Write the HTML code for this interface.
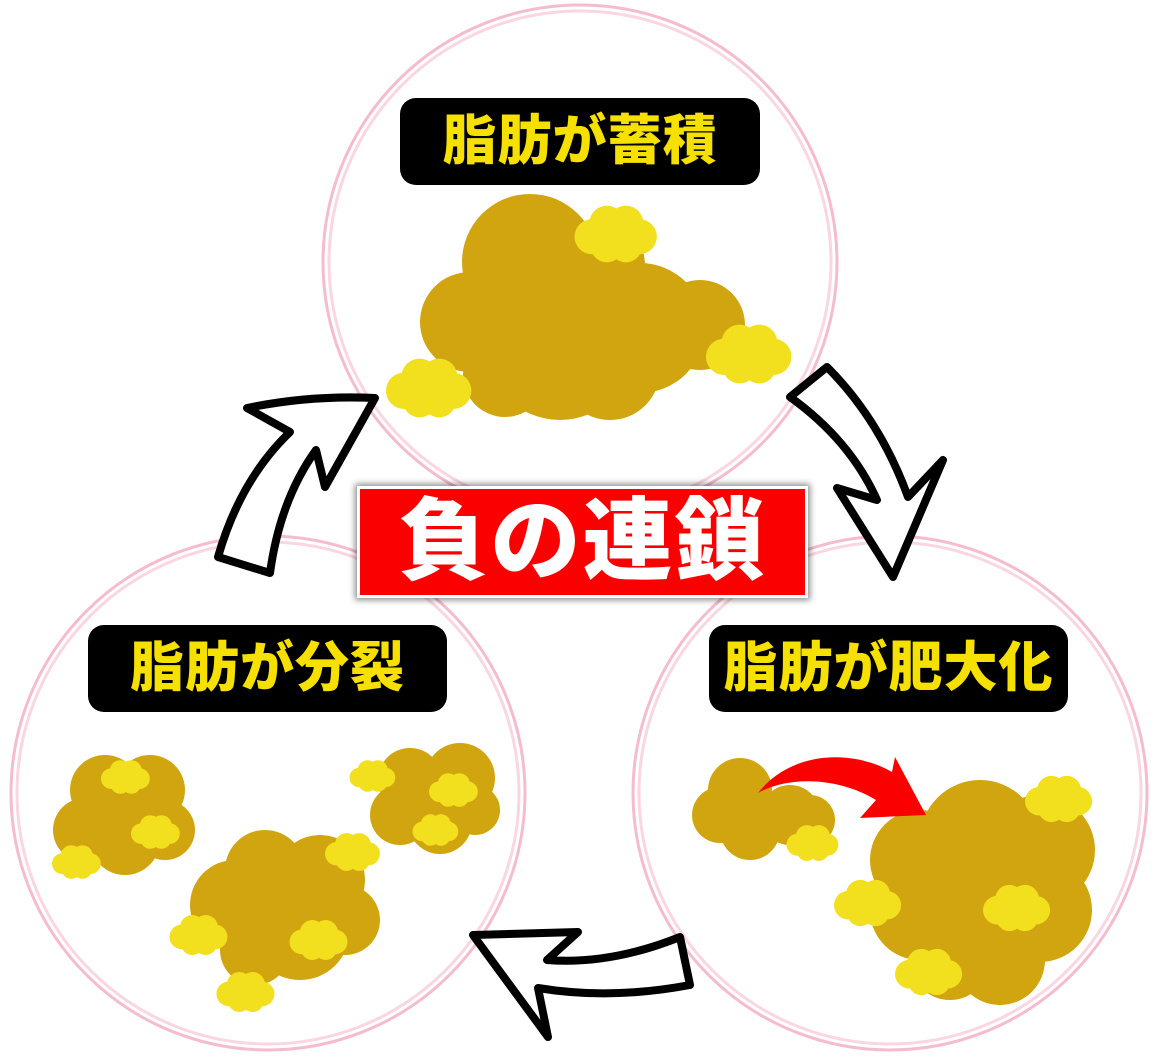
<!DOCTYPE html>
<html><head><meta charset="utf-8"><style>
html,body{margin:0;padding:0;background:#fff;}
.lbl{position:absolute;background:#000;border-radius:16px;color:#f5e000;font-family:"Liberation Sans","Noto Sans CJK JP",sans-serif;font-weight:900;font-size:54px;text-align:center;line-height:87px;height:87px;letter-spacing:1px}
.title{position:absolute;left:357px;top:486px;width:445px;height:106px;background:#fb0000;border:3px solid #fff;box-shadow:0 0 6px 2px rgba(0,0,0,.45);color:#fff;font-family:"Liberation Sans","Noto Sans CJK JP",sans-serif;font-weight:900;font-size:90px;line-height:106px;text-align:center;letter-spacing:2px}
</style></head><body>
<div style="position:relative;width:1158px;height:1063px;overflow:hidden">
<svg width="1158" height="1063" style="position:absolute;left:0;top:0">
<defs>
<g id="y"><circle cx="-17" cy="2" r="13"/><circle cx="-6" cy="-8" r="13"/><circle cx="8" cy="-8" r="13"/><circle cx="18" cy="2" r="13"/><circle cx="-6" cy="9" r="12"/><circle cx="8" cy="9" r="12"/></g>
</defs>
<g fill="none" stroke="#f5bcd0" stroke-width="3">
<circle cx="580" cy="262" r="257"/><circle cx="580" cy="262" r="251" stroke="#fad6e2"/>
<circle cx="268" cy="793" r="257"/><circle cx="268" cy="793" r="251" stroke="#fad6e2"/>
<circle cx="890" cy="793" r="257"/><circle cx="890" cy="793" r="251" stroke="#fad6e2"/>
</g>
<g fill="#d1a50f">
<circle cx="530" cy="262" r="68"/><circle cx="470" cy="322" r="50"/><circle cx="560" cy="345" r="75"/><circle cx="640" cy="328" r="65"/><circle cx="700" cy="325" r="45"/><circle cx="610" cy="370" r="50"/><circle cx="505" cy="375" r="42"/><circle cx="600" cy="265" r="45"/>
</g>
<g fill="#f2df1e">
<use href="#y" transform="translate(615,234) scale(1.35)"/>
<use href="#y" transform="translate(748,354) scale(1.4)"/>
<use href="#y" transform="translate(428,388) scale(1.4)"/>
</g>
<g fill="#d1a50f">
<circle cx="105" cy="790" r="35"/><circle cx="150" cy="790" r="35"/><circle cx="85" cy="830" r="32"/><circle cx="125" cy="840" r="35"/><circle cx="165" cy="830" r="30"/>
<circle cx="265" cy="870" r="40"/><circle cx="320" cy="880" r="45"/><circle cx="235" cy="905" r="45"/><circle cx="300" cy="930" r="50"/><circle cx="345" cy="920" r="35"/><circle cx="255" cy="950" r="35"/>
<circle cx="410" cy="780" r="32"/><circle cx="460" cy="778" r="35"/><circle cx="400" cy="815" r="30"/><circle cx="440" cy="822" r="32"/><circle cx="475" cy="810" r="25"/>
</g>
<g fill="#f2df1e">
<use href="#y" transform="translate(125,777) scale(0.8)"/>
<use href="#y" transform="translate(155,832) scale(0.8)"/>
<use href="#y" transform="translate(76,862) scale(0.8)"/>
<use href="#y" transform="translate(352,852) scale(0.9)"/>
<use href="#y" transform="translate(198,935) scale(0.95)"/>
<use href="#y" transform="translate(318,940) scale(0.95)"/>
<use href="#y" transform="translate(245,992) scale(0.95)"/>
<use href="#y" transform="translate(372,776) scale(0.75)"/>
<use href="#y" transform="translate(453,790) scale(0.8)"/>
<use href="#y" transform="translate(435,830) scale(0.75)"/>
</g>
<g fill="#d1a50f">
<circle cx="740" cy="790" r="32"/><circle cx="720" cy="815" r="28"/><circle cx="750" cy="830" r="30"/><circle cx="790" cy="815" r="30"/><circle cx="810" cy="820" r="25"/>
<circle cx="980" cy="840" r="60"/><circle cx="920" cy="860" r="50"/><circle cx="1040" cy="850" r="55"/><circle cx="920" cy="910" r="50"/><circle cx="980" cy="920" r="60"/><circle cx="1040" cy="910" r="52"/><circle cx="1000" cy="960" r="45"/><circle cx="950" cy="960" r="40"/>
</g>
<g fill="#f2df1e">
<use href="#y" transform="translate(812,843) scale(0.85)"/>
<use href="#y" transform="translate(1058,799) scale(1.1)"/>
<use href="#y" transform="translate(867,903) scale(1.1)"/>
<use href="#y" transform="translate(1016,908) scale(1.1)"/>
<use href="#y" transform="translate(928,972) scale(1.1)"/>
</g>
<path d="M758,793 C790,752 850,748 892,772 L895,757 L926,815 L860,818 L876,800 C840,778 790,775 758,793 Z" fill="#fb0000"/>
<g fill="#fff" stroke="#000" stroke-width="8" stroke-linejoin="round">
<path d="M218,557 Q240,480 290,432 L247,408 Q310,395 375,398 L325,487 L316,450 Q280,500 270,573 Z"/>
<path d="M790,397 Q850,440 877,500 L837,488 L893,577 L943,460 L908,497 Q880,420 827,367 Z"/>
<path d="M473,935 L578,932 L547,960 Q610,965 680,937 L690,985 Q610,1000 538,988 L548,1037 Z"/>
</g>
</svg>
<div class="lbl" style="left:400px;top:98px;width:360px">脂肪が蓄積</div>
<div class="lbl" style="left:88px;top:625px;width:359px">脂肪が分裂</div>
<div class="lbl" style="left:709px;top:625px;width:359px">脂肪が肥大化</div>
<div class="title">負の連鎖</div>
</div>
</body></html>
